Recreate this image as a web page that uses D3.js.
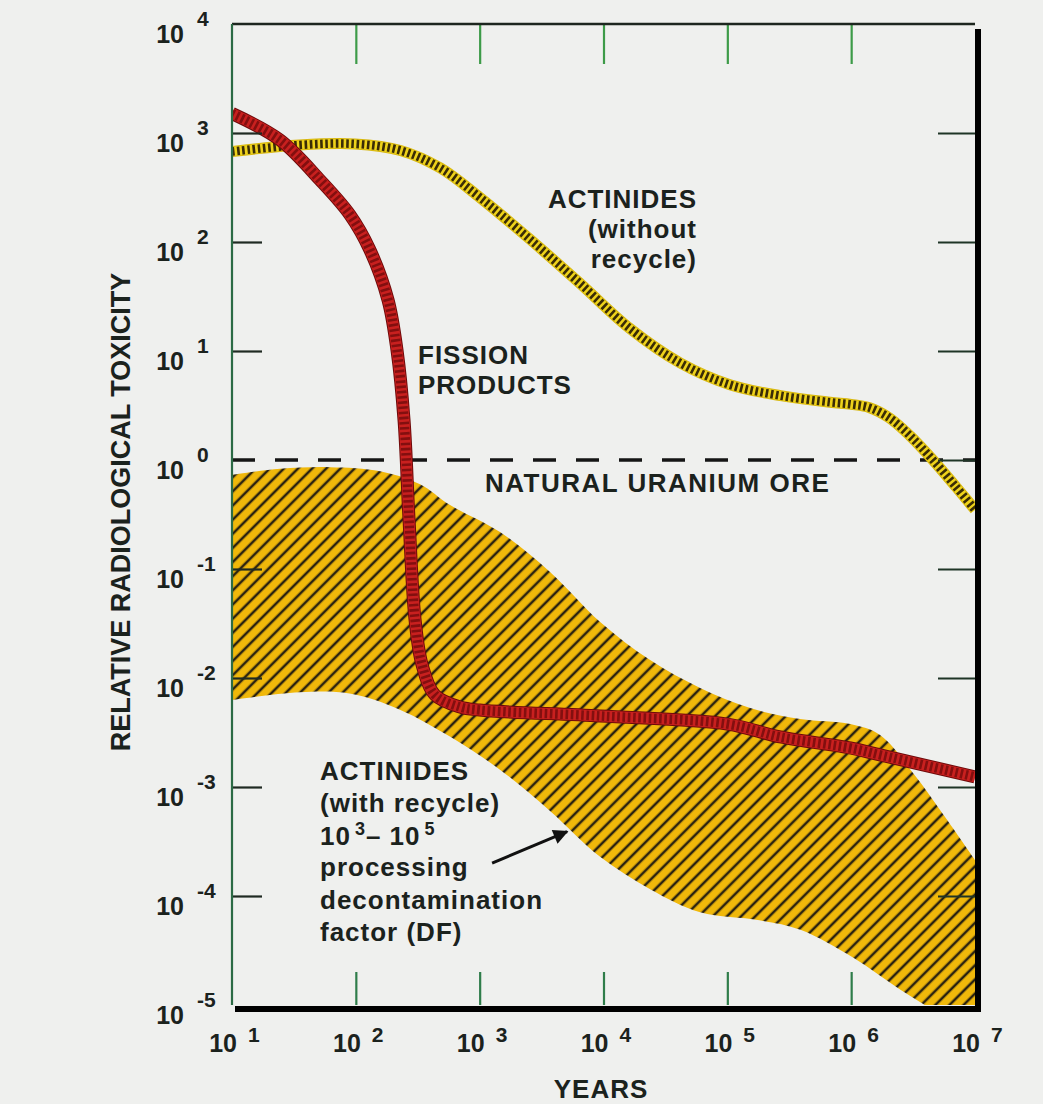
<!DOCTYPE html>
<html>
<head>
<meta charset="utf-8">
<script src="https://cdn.jsdelivr.net/npm/d3@7"></script>
<style>
body { margin: 0; background: #eff0ee; }
svg text { font-family: "Liberation Sans", Arial, Helvetica, sans-serif; font-weight: bold; fill: #1b221d; }
</style>
</head>
<body>
<svg id="chart" width="1043" height="1104"></svg>
<script>
// Axis ticks
var yearTicks = [1e1, 1e2, 1e3, 1e4, 1e5, 1e6, 1e7];
var toxTicks = [1e4, 1e3, 1e2, 1e1, 1e0, 1e-1, 1e-2, 1e-3, 1e-4, 1e-5];

// Fission products
var fissionYears = [10, 24.4, 51.4, 89.8, 130, 182, 215, 245, 269, 301, 343, 436, 695, 1000, 9400, 100000, 267000, 982000, 1710000, 10000000];
var fissionTox = [1510, 863, 370, 177, 84.5, 29.4, 10.2, 2.33, 0.282, 0.034, 0.0132, 0.00698, 0.00542, 0.00508, 0.00448, 0.00378, 0.00288, 0.00228, 0.00197, 0.00124];

// Actinides (without recycle)
var actYears = [10, 35, 98, 229, 479, 1000, 2570, 6460, 16200, 41700, 105000, 269000, 676000, 1000000, 1410000, 2040000, 3000000, 4570000, 6900000, 10000000];
var actTox = [676, 776, 794, 692, 479, 257, 105, 41.7, 16.2, 7.76, 4.9, 3.89, 3.39, 3.24, 3.02, 2.43, 1.66, 1.0, 0.58, 0.35];

// Actinides (with recycle) band
var recYears = [10, 24.4, 62, 157, 330, 577, 1460, 3700, 9400, 23800, 60300, 153000, 387000, 982000, 1710000, 3170000, 5960000, 10000000];
var recUpper = [0.73, 0.83, 0.86, 0.79, 0.6, 0.386, 0.218, 0.094, 0.0327, 0.0146, 0.0081, 0.0053, 0.0042, 0.00378, 0.003, 0.00134, 0.000498, 0.000214];
var recLowerYears = [10, 35, 89, 229, 575, 1450, 3720, 9330, 24000, 60300, 182000, 389000, 1050000, 2500000, 5250000, 10000000];
var recLower = [0.0063, 0.0074, 0.0072, 0.0051, 0.0029, 0.00145, 0.0006, 0.00023, 0.000115, 0.000071, 0.00006, 0.000049, 0.000027, 0.0000138, 0.0000081, 0.0000048];

// Arrow of the lower annotation (years, toxicity)
var arrowYears = [1260, 5080];
var arrowTox = [0.0002, 0.00039];

var svg = d3.select("#chart");
var width = 1043, height = 1104;
var margin = {left: 232, top: 24, right: 68, bottom: 99};

svg.append("rect").attr("width", width).attr("height", height).attr("fill", "#eff0ee");

var x = d3.scaleLog().domain([1e1, 1e7]).range([margin.left, width - margin.right]);
var y = d3.scaleLog().domain([1e-5, 1e4]).range([height - margin.bottom, margin.top]);

var defs = svg.append("defs");
defs.append("clipPath").attr("id", "plotClip")
    .append("rect")
    .attr("x", x(1e1)).attr("y", y(1e4))
    .attr("width", x(1e7) - x(1e1)).attr("height", y(1e-5) - y(1e4));

// hatch pattern for the recycle band
var pat = defs.append("pattern")
    .attr("id", "hatch")
    .attr("patternUnits", "userSpaceOnUse")
    .attr("width", 10).attr("height", 10)
    .attr("patternTransform", "rotate(45)");
pat.append("rect").attr("width", 10).attr("height", 10).attr("fill", "#f0b80a");
pat.append("line").attr("x1", 2).attr("y1", 0).attr("x2", 2).attr("y2", 10)
    .attr("stroke", "#2a2210").attr("stroke-width", 2.6);

var plot = svg.append("g").attr("clip-path", "url(#plotClip)");

var line = d3.line()
    .x(function (d) { return x(d[0]); })
    .y(function (d) { return y(d[1]); })
    .curve(d3.curveCatmullRom.alpha(0.5));

// Band: upper boundary forward, lower boundary backward
var bandTop = recYears.map(function (d, i) { return [d, recUpper[i]]; });
var bandBottom = recLowerYears.map(function (d, i) { return [d, recLower[i]]; }).reverse();
plot.append("path")
    .attr("d", line(bandTop) + "L" + line(bandBottom).slice(1) + "Z")
    .attr("fill", "url(#hatch)");

// Natural uranium ore line
plot.append("line")
    .attr("x1", x(1e1)).attr("x2", x(1e7))
    .attr("y1", y(1)).attr("y2", y(1))
    .attr("stroke", "#151515").attr("stroke-width", 3.5)
    .attr("stroke-dasharray", "23,20");

// Rope style lines
function rope(xs, ys, base, edge, stripe, w, sw) {
    var pts = xs.map(function (d, i) { return [d, ys[i]]; });
    plot.append("path").datum(pts).attr("d", line)
        .attr("fill", "none").attr("stroke", edge).attr("stroke-width", w + 2);
    plot.append("path").datum(pts).attr("d", line)
        .attr("fill", "none").attr("stroke", base).attr("stroke-width", w);
    plot.append("path").datum(pts).attr("d", line)
        .attr("fill", "none").attr("stroke", stripe).attr("stroke-width", sw)
        .attr("stroke-dasharray", "2.6,2.6");
}

rope(actYears, actTox, "#eed21a", "#d8b810", "#3a2c06", 9, 8.5);
rope(fissionYears, fissionTox, "#c8201f", "#6e0a0a", "#830f0f", 11, 9.5);

// Ticks via axes
function tickAxis(axis, tx, ty, color) {
    var g = svg.append("g").attr("transform", "translate(" + tx + "," + ty + ")").call(axis);
    g.select(".domain").remove();
    g.selectAll(".tick line").attr("stroke", color).attr("stroke-width", 2.2);
    g.selectAll(".tick text").remove();
}
var innerYears = yearTicks.slice(1, -1);
var innerTox = toxTicks.slice(1, -1);
tickAxis(d3.axisTop(x).tickValues(innerYears).tickSize(-40), 0, y(1e4), "#3d9b48");
tickAxis(d3.axisBottom(x).tickValues(innerYears).tickSize(-33), 0, y(1e-5), "#2f7d4a");
tickAxis(d3.axisLeft(y).tickValues(innerTox.filter(function (d) { return d !== 1; })).tickSize(-30), x(1e1), 0, "#1f2a22");
tickAxis(d3.axisRight(y).tickValues(innerTox).tickSize(-37), x(1e7), 0, "#1f3526");

// Frame
svg.append("line").attr("x1", x(1e1)).attr("x2", x(1e7)).attr("y1", y(1e4)).attr("y2", y(1e4))
    .attr("stroke", "#1d261f").attr("stroke-width", 2.5);
svg.append("line").attr("x1", x(1e1)).attr("x2", x(1e1)).attr("y1", y(1e4)).attr("y2", y(1e-5))
    .attr("stroke", "#2c6b45").attr("stroke-width", 2.2);
svg.append("line").attr("x1", x(1e7) + 3).attr("x2", x(1e7) + 3).attr("y1", y(1e4) + 5).attr("y2", y(1e-5) + 7)
    .attr("stroke", "#000").attr("stroke-width", 6);
svg.append("line").attr("x1", x(1e1) + 3).attr("x2", x(1e7) + 6).attr("y1", y(1e-5) + 4).attr("y2", y(1e-5) + 4)
    .attr("stroke", "#000").attr("stroke-width", 6);

// Y tick labels
var ylab = svg.append("g");
toxTicks.forEach(function (d) {
    var e = Math.round(Math.log10(d));
    ylab.append("text").attr("x", 184).attr("y", y(d) + 19)
        .attr("text-anchor", "end").style("font-size", "25px").text("10");
    ylab.append("text").attr("x", 197).attr("y", y(d) + 2)
        .style("font-size", "21px").text(e);
});

// X tick labels
var xlab = svg.append("g");
yearTicks.forEach(function (d) {
    var e = Math.round(Math.log10(d));
    xlab.append("text").attr("x", x(d) + 5).attr("y", 1052)
        .attr("text-anchor", "end").style("font-size", "25px").text("10");
    xlab.append("text").attr("x", x(d) + 16).attr("y", 1042)
        .style("font-size", "21px").text(e);
});

// Axis titles
svg.append("text").attr("transform", "translate(130,512) rotate(-90)")
    .attr("text-anchor", "middle").style("font-size", "27px")
    .text("RELATIVE RADIOLOGICAL TOXICITY");
svg.append("text").attr("x", 601).attr("y", 1098)
    .attr("text-anchor", "middle").style("font-size", "26px").style("letter-spacing", "1px")
    .text("YEARS");

// Annotations
function label(lines, xPos, yPos, step, anchor) {
    lines.forEach(function (t, i) {
        svg.append("text").attr("x", xPos).attr("y", yPos + i * step)
            .attr("text-anchor", anchor).style("font-size", "26px").style("letter-spacing", "1px")
            .text(t);
    });
}
label(["ACTINIDES", "(without", "recycle)"], 697, 208, 30, "end");
label(["FISSION", "PRODUCTS"], 418, 364, 30, "start");
svg.append("text").attr("x", 485).attr("y", 492)
    .style("font-size", "26px").style("letter-spacing", "1.5px")
    .text("NATURAL URANIUM ORE");

label(["ACTINIDES", "(with recycle)"], 320, 780, 32.3, "start");
var df = svg.append("text").attr("x", 320).attr("y", 845)
    .style("font-size", "26px").style("letter-spacing", "1px");
df.append("tspan").text("10");
df.append("tspan").attr("dx", 4).attr("dy", -10).style("font-size", "18px").text("3");
df.append("tspan").attr("dy", 10).text("– 10");
df.append("tspan").attr("dx", 4).attr("dy", -10).style("font-size", "18px").text("5");
label(["processing", "decontamination", "factor (DF)"], 320, 876, 32.5, "start");

// Arrow
defs.append("marker").attr("id", "arrowHead")
    .attr("viewBox", "0 0 10 10").attr("refX", 9).attr("refY", 5)
    .attr("markerWidth", 6).attr("markerHeight", 5).attr("orient", "auto")
    .append("path").attr("d", "M0,0L10,5L0,10Z").attr("fill", "#111");
svg.append("line")
    .attr("x1", x(arrowYears[0])).attr("y1", y(arrowTox[0]))
    .attr("x2", x(arrowYears[1])).attr("y2", y(arrowTox[1]))
    .attr("stroke", "#111").attr("stroke-width", 3)
    .attr("marker-end", "url(#arrowHead)");
</script>
</body>
</html>
